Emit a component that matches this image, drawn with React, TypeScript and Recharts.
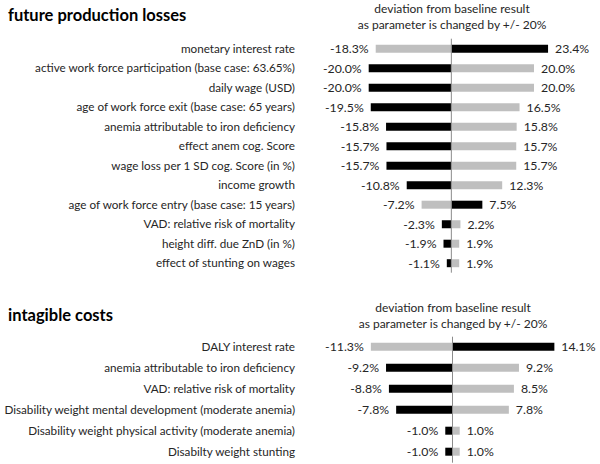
import React from 'react';
import { BarChart, Bar, XAxis, YAxis, ReferenceLine, LabelList } from 'recharts';

const topCategories = [
  'monetary interest rate',
  'active work force participation (base case: 63.65%)',
  'daily wage (USD)',
  'age of work force exit (base case: 65 years)',
  'anemia attributable to iron deficiency',
  'effect anem cog. Score',
  'wage loss per 1 SD cog. Score (in %)',
  'income growth',
  'age of work force entry (base case: 15 years)',
  'VAD: relative risk of mortality',
  'height diff. due ZnD (in %)',
  'effect of stunting on wages',
];
const topBlack = [23.4, -20.0, -20.0, -19.5, -15.8, -15.7, -15.7, -10.8, 7.5, -2.3, -1.9, -1.1];
const topGray = [-18.3, 20.0, 20.0, 16.5, 15.8, 15.7, 15.7, 12.3, -7.2, 2.2, 1.9, 1.9];
const topTicks = [-35, -25, -15, -5, 5, 15, 25, 35];

const bottomCategories = [
  'DALY interest rate',
  'anemia attributable to iron deficiency',
  'VAD: relative risk of mortality',
  'Disability weight mental development (moderate anemia)',
  'Disability weight physical activity (moderate anemia)',
  'Disabilty weight stunting',
];
const bottomBlack = [14.1, -9.2, -8.8, -7.8, -1.0, -1.0];
const bottomGray = [-11.3, 9.2, 8.5, 7.8, 1.0, 1.0];
const bottomTicks = [-20, -10, 0, 10, 20];

const FONT = 'Lato, sans-serif';
const TEXT = '#262626';

function buildRows(cats: string[], black: number[], gray: number[]) {
  return cats.map((c, i) => ({ name: c, black: black[i], gray: gray[i] }));
}

const topRows = buildRows(topCategories, topBlack, topGray);
const bottomRows = buildRows(bottomCategories, bottomBlack, bottomGray);

const ValueLabel = (props: any) => {
  const { x, y, width, height, value } = props;
  const left = Math.min(x, x + width);
  const right = Math.max(x, x + width);
  const neg = value < 0;
  return (
    <text
      x={neg ? left - 7 : right + 7}
      y={y + height / 2}
      dy="0.36em"
      textAnchor={neg ? 'end' : 'start'}
      fontFamily={FONT}
      fontSize={12.3}
      fill={TEXT}
    >
      {Number(value).toFixed(1)}%
    </text>
  );
};

const makeCatTick = (labelX: number) => (props: any) => {
  const { y, payload } = props;
  return (
    <text x={labelX} y={y} dy="0.36em" textAnchor="end" fontFamily={FONT} fontSize={11.7} fill={TEXT}>
      {payload.value}
    </text>
  );
};

const TopTick = makeCatTick(295);
const BottomTick = makeCatTick(295);

export default function App() {
  return (
    <div style={{ position: 'absolute', left: 0, top: 0, width: 600, height: 464, background: '#fff', overflow: 'hidden' }}>
      <div style={{ position: 'absolute', left: 0, top: 0 }}>
        <BarChart
          width={600}
          height={280}
          data={topRows}
          layout="vertical"
          stackOffset="sign"
          barSize={8}
          margin={{ top: 38.7, right: 4, left: 0, bottom: 7.3 }}
        >
          <XAxis
            type="number"
            orientation="top"
            domain={[-35, 35]}
            ticks={topTicks}
            interval={0}
            tick={false}
            tickSize={4}
            height={0}
            stroke="#a6a6a6"
          />
          <YAxis
            type="category"
            dataKey="name"
            width={306.7}
            axisLine={false}
            tickLine={false}
            interval={0}
            tick={<TopTick />}
          />
          <Bar dataKey="black" stackId="a" fill="#000000" isAnimationActive={false}>
            <LabelList dataKey="black" content={ValueLabel} />
          </Bar>
          <Bar dataKey="gray" stackId="a" fill="#bfbfbf" isAnimationActive={false}>
            <LabelList dataKey="gray" content={ValueLabel} />
          </Bar>
          <ReferenceLine x={0} stroke="#8c8c8c" />
        </BarChart>
      </div>
      <div style={{ position: 'absolute', left: 0, top: 280 }}>
        <BarChart
          width={600}
          height={184}
          data={bottomRows}
          layout="vertical"
          stackOffset="sign"
          barSize={8}
          margin={{ top: 56.7, right: 3, left: 0, bottom: 1.3 }}
        >
          <XAxis
            type="number"
            orientation="top"
            domain={[-20, 20]}
            ticks={bottomTicks}
            interval={0}
            tick={false}
            tickSize={4}
            height={0}
            stroke="#a6a6a6"
          />
          <YAxis
            type="category"
            dataKey="name"
            width={308}
            axisLine={false}
            tickLine={false}
            interval={0}
            tick={<BottomTick />}
          />
          <Bar dataKey="black" stackId="a" fill="#000000" isAnimationActive={false}>
            <LabelList dataKey="black" content={ValueLabel} />
          </Bar>
          <Bar dataKey="gray" stackId="a" fill="#bfbfbf" isAnimationActive={false}>
            <LabelList dataKey="gray" content={ValueLabel} />
          </Bar>
          <ReferenceLine x={0} stroke="#8c8c8c" />
        </BarChart>
      </div>
      <svg width={600} height={464} style={{ position: 'absolute', left: 0, top: 0, pointerEvents: 'none' }}>
        <text x={8} y={21} fontFamily={FONT} fontWeight={700} fontSize={16.5} fill="#000">future production losses</text>
        <text x={452} y={13} textAnchor="middle" fontFamily={FONT} fontSize={12} fill={TEXT}>deviation from baseline result</text>
        <text x={452} y={29} textAnchor="middle" fontFamily={FONT} fontSize={12} fill={TEXT}>as parameter is changed by +/- 20%</text>
        <text x={8} y={321} fontFamily={FONT} fontWeight={700} fontSize={16.5} fill="#000">intagible costs</text>
        <text x={453} y={312} textAnchor="middle" fontFamily={FONT} fontSize={12} fill={TEXT}>deviation from baseline result</text>
        <text x={453} y={328} textAnchor="middle" fontFamily={FONT} fontSize={12} fill={TEXT}>as parameter is changed by +/- 20%</text>
      </svg>
    </div>
  );
}
